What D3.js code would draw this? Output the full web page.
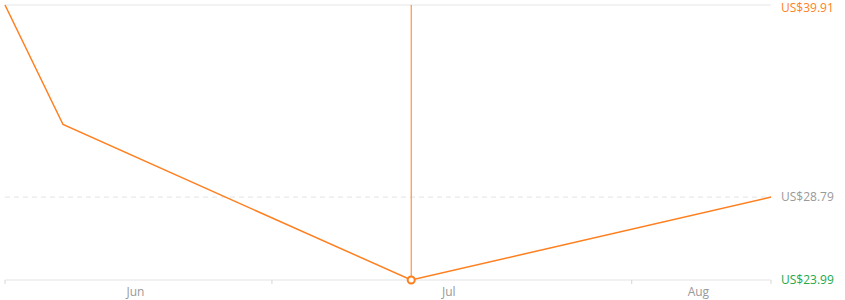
<!DOCTYPE html>
<html>
<head>
<script src="https://cdn.jsdelivr.net/npm/d3@7"></script>
<style>
  body { margin: 0; background: #fff; }
  svg { display: block; font-family: "Open Sans", "Noto Sans", sans-serif; }
</style>
</head>
<body>
<svg width="845" height="300"></svg>
<script>
// price history
const dates = ["2023-06-08", "2023-06-13", "2023-07-13", "2023-08-13"];
const prices = [39.91, 32.99, 23.99, 28.79];
const domainDates = ["2023-06-08", "2023-08-13"];
const monthTicks = ["2023-07-01", "2023-08-01"];
const monthLabels = ["Jun", "Jul", "Aug"];
const hiPrice = 39.91, curPrice = 28.79, loPrice = 23.99;
const hoverDate = "2023-07-13";

const parse = d3.utcParse("%Y-%m-%d");
const svg = d3.select("svg");
const orange = "#ff7f1e", green = "#22a84a", gray = "#999";

const x = d3.scaleUtc()
    .domain(domainDates.map(parse))
    .range([5, 771]);
const y = d3.scaleLinear()
    .domain([loPrice, hiPrice])
    .range([280, 5]);

const pts = dates.map((d, i) => ({ date: parse(d), price: prices[i] }));

// top grid + dashed current price line
svg.append("line")
    .attr("x1", 5).attr("x2", 771)
    .attr("y1", y(hiPrice)).attr("y2", y(hiPrice))
    .attr("stroke", "#e6e6e6");
svg.append("line")
    .attr("x1", 5).attr("x2", 771)
    .attr("y1", y(curPrice)).attr("y2", y(curPrice))
    .attr("stroke", "#e3e3e3")
    .attr("stroke-dasharray", "5,4");

// bottom axis
const axisY = y(loPrice);
svg.append("line")
    .attr("x1", 5).attr("x2", 771)
    .attr("y1", axisY).attr("y2", axisY)
    .attr("stroke", "#e3e3e3");
const tickXs = [x.range()[0], ...monthTicks.map(d => x(parse(d))), x.range()[1]];
svg.selectAll(".tick")
    .data(tickXs)
    .join("line")
    .attr("x1", d => d).attr("x2", d => d)
    .attr("y1", axisY).attr("y2", axisY + 4)
    .attr("stroke", "#d6d6d6");
svg.selectAll(".month")
    .data(monthLabels)
    .join("text")
    .attr("x", (d, i) => (tickXs[i] + tickXs[i + 1]) / 2 - 3)
    .attr("y", 296)
    .attr("text-anchor", "middle")
    .attr("font-size", 12)
    .attr("fill", gray)
    .text(d => d);

// price line
svg.append("path")
    .datum(pts)
    .attr("fill", "none")
    .attr("stroke", orange)
    .attr("stroke-width", 1.5)
    .attr("d", d3.line().x(d => x(d.date)).y(d => y(d.price)));

// hover crosshair
const hx = x(parse(hoverDate));
const hp = pts.find(p => +p.date === +parse(hoverDate));
svg.append("line")
    .attr("x1", hx).attr("x2", hx)
    .attr("y1", y(hiPrice)).attr("y2", y(hp.price))
    .attr("stroke", orange)
    .attr("stroke-width", 1);
svg.append("circle")
    .attr("cx", hx).attr("cy", y(hp.price))
    .attr("r", 3.5)
    .attr("fill", "#fff")
    .attr("stroke", orange)
    .attr("stroke-width", 2);

// right labels
const fmt = v => "US$" + v.toFixed(2);
const labels = [
  { v: hiPrice, c: orange },
  { v: curPrice, c: gray },
  { v: loPrice, c: green }
];
svg.selectAll(".plabel")
    .data(labels)
    .join("text")
    .attr("x", 781)
    .attr("y", d => Math.max(y(d.v), 8))
    .attr("dy", "0.35em")
    .attr("font-size", 12)
    .attr("fill", d => d.c)
    .text(d => fmt(d.v));
</script>
</body>
</html>
